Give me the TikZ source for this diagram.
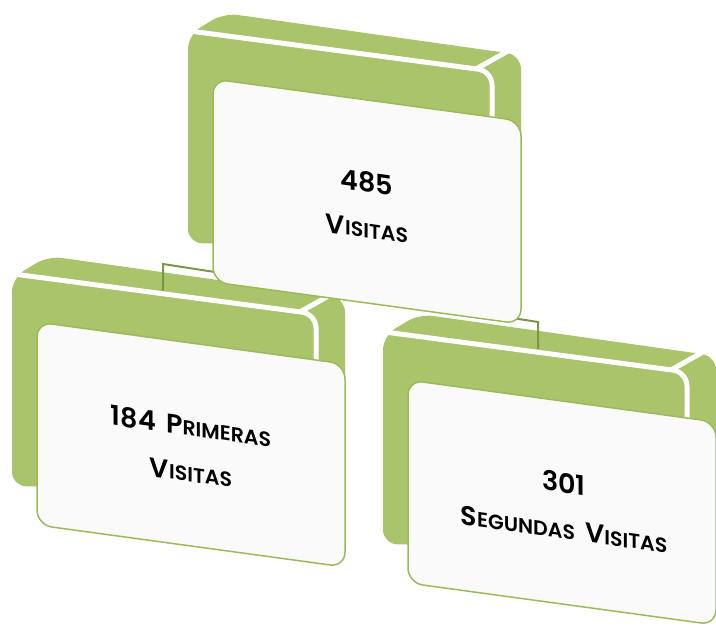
\documentclass[tikz,border=0pt]{standalone}
\usepackage{fontspec}
\newfontfamily\lblfont{Poppins}[UprightFont={* SemiBold}]
\definecolor{leaf}{RGB}{170,196,108}
\definecolor{cardline}{RGB}{155,187,89}
\definecolor{cardfill}{RGB}{250,250,250}
\definecolor{linkline}{RGB}{122,150,70}
% small caps built from a full-size initial and reduced capitals
\newcommand{\capword}[2]{{\fontsize{27}{46}\selectfont #1}{\fontsize{20.5}{46}\selectfont #2}}
\newcommand{\wordgap}{\hspace{0.38em}}
% green folder body: top face, front face and side face in one piece
\newcommand{\folderbody}{%
  \fill[backpanel] (188,150) -- (188,35) -- (224,13) -- (521,55) -- (521,250) -- (188,243) -- cycle;}
% white seams between the faces of the folder body
\newcommand{\folderseams}{%
  \draw[seam, rounded corners=14pt] (186,30.5) -- (492,71) -- (492,135);
  \draw[seam] (476,69) -- (508,51);}
% front card
\newcommand{\foldercard}{%
  \draw[cardface] (213,79) -- (521,121) -- (521,324) -- (213,282) -- cycle;}
\tikzset{
  backpanel/.style={fill=leaf, rounded corners=14pt},
  seam/.style={draw=white, line width=5pt},
  cardface/.style={fill=cardfill, draw=cardline, line width=1.5pt, rounded corners=15pt},
  link/.style={draw=linkline, line width=2pt},
  lbl/.style={align=center, yslant=-0.14, inner sep=0pt,
    font=\lblfont\fontsize{27}{46}\selectfont},
  childL/.style={shift={(-176,243)}},
  childR/.style={shift={(195,301)}},
}
\begin{document}
\begin{tikzpicture}[x=1pt, y=-1pt]
\useasboundingbox (0,0) rectangle (716,628);
% folder bodies
\folderbody
\begin{scope}[childL] \folderbody \end{scope}
\begin{scope}[childR] \folderbody \end{scope}
% seams
\folderseams
\begin{scope}[childL] \folderseams \end{scope}
\begin{scope}[childR] \folderseams \end{scope}
% connectors from the parent to the two children
\coordinate (hubL) at (163,264);
\coordinate (hubR) at (538,322);
\coordinate (inL) at (163,291);
\coordinate (inR) at (538,349);
\draw[link] (inL) -- (hubL) -- (hubR) -- (inR);
% cards and labels
\foldercard
\node[lbl] (total) at (367,205) {485\\\capword{V}{ISITAS}};
\begin{scope}[childL]
  \foldercard
  \node[lbl] (first) at (367,206) {184\wordgap\capword{P}{RIMERAS}\\\capword{V}{ISITAS}};
\end{scope}
\begin{scope}[childR]
  \foldercard
  \node[lbl] (second) at (369,205) {301\\\capword{S}{EGUNDAS}\wordgap\capword{V}{ISITAS}};
\end{scope}
\end{tikzpicture}
\end{document}
